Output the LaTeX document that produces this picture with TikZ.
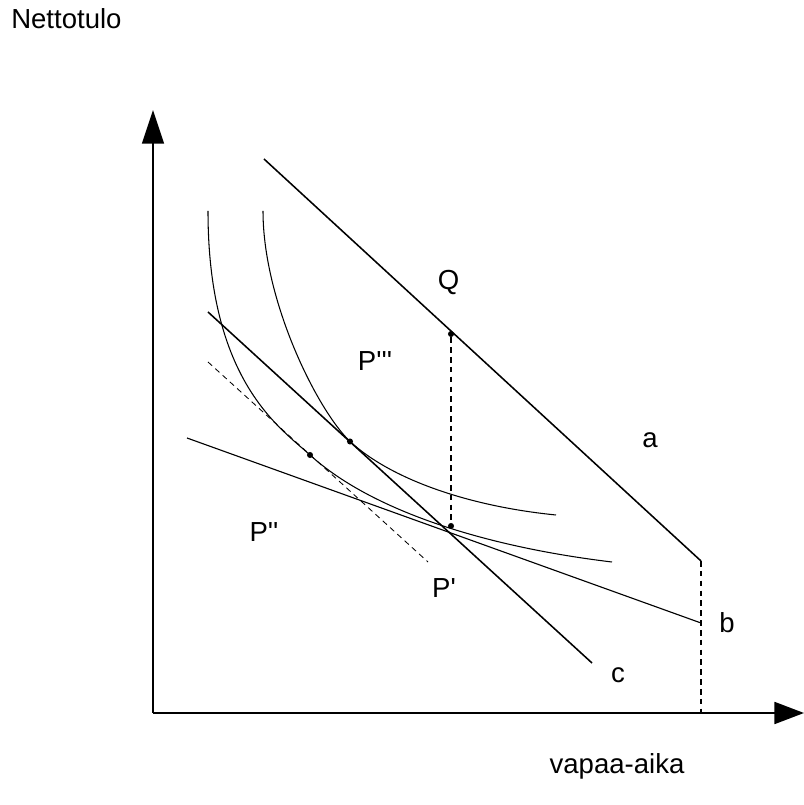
\documentclass[tikz,border=0pt]{standalone}
\usepackage{fontspec}
\setmainfont{Liberation Sans}
\usepackage{tikz}
\usetikzlibrary{arrows.meta}
\newcommand{\tick}{\textquotesingle}

\begin{document}
\begin{tikzpicture}[
    x=2.5mm, y=2.5mm,
    font=\fontsize{19.6}{23}\selectfont,
    axis/.style={line width=1.4pt},
    budget/.style={line width=1.1pt},
    indiff/.style={line width=0.75pt},
    guide/.style={line width=0.8pt, dashed, dash pattern=on 4pt off 3pt},
    dot/.style={circle, fill, inner sep=0pt, minimum size=4.3pt},
    lbl/.style={inner sep=0pt}
]
\useasboundingbox (0,0) rectangle (80.4,80.5);

% axes
\coordinate (O) at (15.3, 9.2);
\coordinate (ytip) at (15.3, 69.5);
\coordinate (xtip) at (80.4, 9.2);
\draw[axis, -{Triangle[length=24pt, width=15.6pt]}] (O) -- (ytip);
\draw[axis, -{Triangle[length=21pt, width=15.6pt]}] (O) -- (xtip);

% budget line a and its foot
\coordinate (aTop) at (26.4, 64.6);
\coordinate (kink) at (70.1, 24.4);
\coordinate (kinkFoot) at (70.1, 9.2);
\draw[budget] (aTop) -- (kink);
\draw[guide] (kink) -- (kinkFoot);

% lines b and c, dashed parallel
\coordinate (bStart) at (18.7, 36.7);
\coordinate (bEnd) at (70.1, 18.2);
\coordinate (cStart) at (20.8, 49.3);
\coordinate (cEnd) at (59.2, 14.2);
\coordinate (dStart) at (20.8, 44.3);
\coordinate (dEnd) at (42.8, 24.3);
\draw[line width=0.8pt] (bStart) -- (bEnd);
\draw[budget] (cStart) -- (cEnd);
\draw[guide, line width=0.6pt] (dStart) -- (dEnd);

% points
\node[dot] (Q) at (45.1, 47.1) {};
\node[dot] (Pp) at (45.1, 27.9) {};
\node[dot] (Pppp) at (35.0, 36.35) {};
\node[dot] (Ppp) at (31.0, 35.0) {};
\draw[guide] (Q) -- (Pp);

% indifference curves
\coordinate (u1Top) at (20.8, 59.4);
\coordinate (u1End) at (61.2, 24.3);
\coordinate (u2Top) at (26.3, 59.4);
\coordinate (u2End) at (55.6, 29.0);
\draw[indiff] (u1Top) .. controls (20.8, 42.4) and (28.0, 37.73) .. (Ppp.center)
                      .. controls (37.0, 29.54) and (48.2, 25.86) .. (u1End);
\draw[indiff] (u2Top) .. controls (26.3, 50.4) and (31.7, 39.53) .. (Pppp.center)
                      .. controls (39.0, 32.67) and (46.6, 29.9) .. (u2End);

% labels
\node[lbl, anchor=base west] (ylabel) at (1.1, 77.6) {Nettotulo};
\node[lbl] (xlabel) at (61.7, 3.9) {vapaa-aika};
\node[lbl] (Qlab) at (44.85, 52.25) {Q};
\node[lbl] (alab) at (65.0, 36.45) {a};
\node[lbl] (blab) at (72.7, 18.2) {b};
\node[lbl] (clab) at (61.8, 13.0) {c};
\node[lbl] (Pppplab) at (37.5, 44.4) {P\tick\tick\tick};
\node[lbl] (Ppplab) at (26.4, 27.3) {P\tick\tick};
\node[lbl] (Pplab) at (44.4, 21.7) {P\tick};
\end{tikzpicture}
\end{document}
